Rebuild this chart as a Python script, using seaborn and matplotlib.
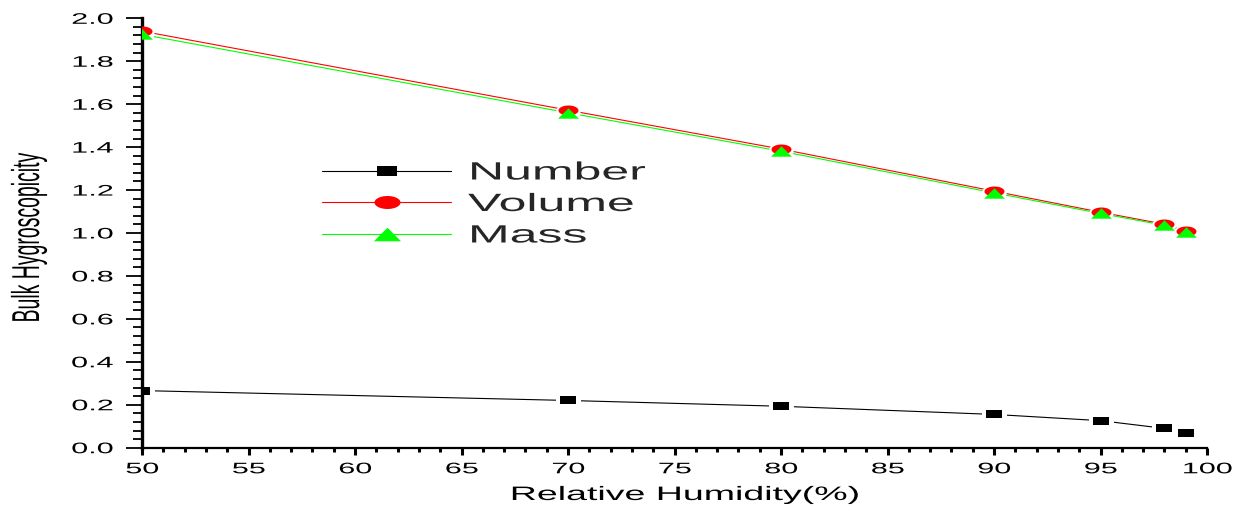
import numpy as np
import pandas as pd
import matplotlib
matplotlib.use("Agg")
import matplotlib.pyplot as plt
import seaborn as sns
from matplotlib.lines import Line2D
from matplotlib.patheffects import AbstractPathEffect
from matplotlib.transforms import Affine2D
from matplotlib.ticker import MultipleLocator

# Relative humidity (%) and bulk hygroscopicity for each weighting
rh = [50, 70, 80, 90, 95, 98, 99]
number = [0.266, 0.220, 0.193, 0.155, 0.126, 0.090, 0.067]
volume = [1.940, 1.572, 1.391, 1.195, 1.097, 1.041, 1.008]
mass = [1.925, 1.560, 1.381, 1.187, 1.091, 1.036, 1.004]

series_names = ["Number", "Volume", "Mass"]
series_colors = ["#000000", "#ff0000", "#00ff00"]

x_ticks = [50, 55, 60, 65, 70, 75, 80, 85, 90, 95, 100]
x_tick_labels = ["50", "55", "60", "65", "70", "75", "80", "85", "90", "95", "100"]
y_ticks = [0.0, 0.2, 0.4, 0.6, 0.8, 1.0, 1.2, 1.4, 1.6, 1.8, 2.0]
y_tick_labels = ["0.0", "0.2", "0.4", "0.6", "0.8", "1.0", "1.2", "1.4", "1.6", "1.8", "2.0"]


class HStretch(AbstractPathEffect):
    """Draw text glyphs widened horizontally about a chosen anchor."""

    def __init__(self, factor=2.0, anchor="center"):
        super().__init__()
        self.factor = factor
        self.anchor = anchor

    def draw_path(self, renderer, gc, tpath, affine, rgbFace=None):
        if len(tpath.vertices):
            xs = affine.transform(tpath.vertices)[:, 0]
            if self.anchor == "left":
                x0 = xs.min()
            elif self.anchor == "right":
                x0 = xs.max()
            else:
                x0 = 0.5 * (xs.min() + xs.max())
            affine = affine + Affine2D().translate(-x0, 0).scale(self.factor, 1).translate(x0, 0)
        renderer.draw_path(gc, tpath, affine, rgbFace)


# wide markers: square, ellipse, triangle (2:1 aspect)
theta = np.linspace(0, 2 * np.pi, 73)
m_square = np.array([[-1, -0.5], [1, -0.5], [1, 0.5], [-1, 0.5], [-1, -0.5]])
m_ellipse = np.column_stack([np.cos(theta), 0.5 * np.sin(theta)])
m_triangle = np.array([[-1, -0.5], [1, -0.5], [0, 0.5], [-1, -0.5]])
series_markers = [m_square, m_ellipse, m_triangle]
marker_sizes = [11.5, 14.4, 15.0]

sns.set_style("ticks")
plt.rcParams["font.family"] = ["Liberation Sans", "DejaVu Sans"]
plt.rcParams["axes.linewidth"] = 1.6

df = pd.DataFrame({
    "rh": rh * 3,
    "value": number + volume + mass,
    "series": sum([[n] * len(rh) for n in series_names], []),
})

fig = plt.figure(figsize=(12.43, 5.14), dpi=100)
ax = fig.add_axes([142 / 1243, 1 - 447.7 / 514, (1207 - 142) / 1243, (447.7 - 18.3) / 514])

sns.lineplot(data=df, x="rh", y="value", hue="series", hue_order=series_names,
             palette=dict(zip(series_names, series_colors)), linewidth=0.8,
             errorbar=None, legend=False, ax=ax, zorder=2)

# white halos leave small gaps in the lines around each point
halo_specs = [(number, m_square, 18.0), (volume, m_ellipse, 17.5), (mass, m_ellipse, 17.5)]
for vals, mk, ms in halo_specs:
    ax.plot(rh, vals, linestyle="none", marker=mk, markersize=ms,
            markerfacecolor="white", markeredgewidth=0, zorder=2.2)

for i, (vals, name) in enumerate(zip([number, volume, mass], series_names)):
    ax.plot(rh, vals, linestyle="none", marker=series_markers[i], markersize=marker_sizes[i],
            markerfacecolor=series_colors[i], markeredgewidth=0, zorder=3 + 0.1 * i)

ax.set_xlim(50, 100)
ax.set_ylim(0, 2.0)
ax.set_xticks(x_ticks)
ax.set_xticklabels(x_tick_labels)
ax.set_yticks(y_ticks)
ax.set_yticklabels(y_tick_labels)
ax.xaxis.set_minor_locator(MultipleLocator(1))
ax.yaxis.set_minor_locator(MultipleLocator(0.04))

ax.tick_params(axis="y", which="major", direction="out", length=11.5, width=1.3,
               pad=9.4, labelsize=11, color="black", labelcolor="black")
ax.tick_params(axis="y", which="minor", direction="out", length=6.5, width=1.3, color="black")
ax.tick_params(axis="x", which="major", direction="out", length=5, width=2.2,
               pad=5.5, labelsize=11, color="black", labelcolor="black")
ax.tick_params(axis="x", which="minor", direction="out", length=3, width=2.2, color="black")

for side in ["top", "right"]:
    ax.spines[side].set_visible(False)
ax.spines["left"].set_linewidth(2.4)
ax.spines["bottom"].set_linewidth(1.6)
ax.spines["left"].set_color("black")
ax.spines["bottom"].set_color("black")
ax.grid(False)

ax.set_xlabel("Relative Humidity(%)", fontsize=14, color="black")
ax.set_ylabel("Bulk Hygroscopicity", fontsize=14, color="black")
ax.xaxis.set_label_coords((685 - 142) / 1065, (447.7 - 487) / 429.4)
ax.yaxis.set_label_coords((38 - 142) / 1065, (447.7 - 237) / 429.4)
ax.xaxis.label.set_path_effects([HStretch(1.93, "center")])
ax.yaxis.label.set_path_effects([HStretch(2.0, "center")])

for lbl in ax.get_yticklabels():
    lbl.set_path_effects([HStretch(2.0, "right")])
for lbl in ax.get_xticklabels():
    lbl.set_path_effects([HStretch(2.0, "center")])

handles = [
    Line2D([], [], color=series_colors[i], linewidth=0.8, marker=series_markers[i],
           markersize=marker_sizes[i] * 1.3, markerfacecolor=series_colors[i],
           markeredgewidth=0)
    for i in range(3)
]
leg = ax.legend(handles, series_names, loc="center left",
                bbox_to_anchor=(322 / 1243, 1 - 204 / 514), bbox_transform=fig.transFigure,
                frameon=False, fontsize=18, handlelength=5.16, handletextpad=0.68,
                labelspacing=0.3, borderpad=0, borderaxespad=0)
for t in leg.get_texts():
    t.set_path_effects([HStretch(2.0, "left")])

fig.savefig("out.png", dpi=100)
